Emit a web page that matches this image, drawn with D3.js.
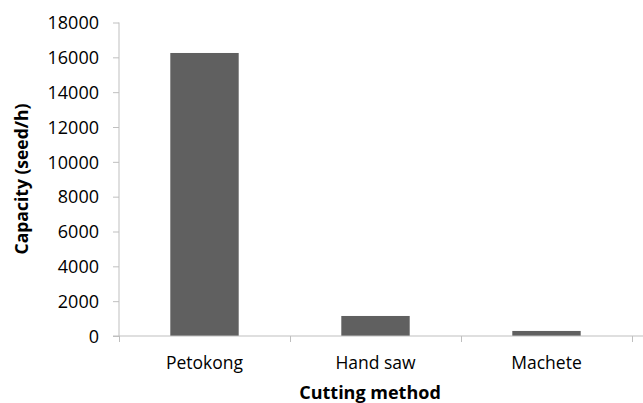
<!DOCTYPE html>
<html>
<head>
<meta charset="utf-8">
<script src="https://cdn.jsdelivr.net/npm/d3@7"></script>
<style>
  body { margin: 0; background: #fff; }
  text { font-family: "Open Sans", sans-serif; fill: #000; }
</style>
</head>
<body>
<svg id="chart" width="643" height="403"></svg>
<script>
// data
const methods = ["Petokong", "Hand saw", "Machete"];
const capacity = [16250, 1150, 290];
const yTicks = [0, 2000, 4000, 6000, 8000, 10000, 12000, 14000, 16000, 18000];

const margin = {top: 22.5, right: 0, bottom: 67, left: 119};
const width = 643 - margin.left - margin.right;
const height = 403 - margin.top - margin.bottom;

const svg = d3.select("#chart");
const chart = svg.append("g")
    .attr("transform", `translate(${margin.left},${margin.top})`);

const xScale = d3.scaleBand()
    .domain(methods)
    .range([0, 171 * 3])
    .paddingInner(0.6)
    .paddingOuter(0.3);

const yScale = d3.scaleLinear()
    .domain([0, 18000])
    .range([height, 0]);

// y axis
const yAxis = chart.append("g")
    .call(d3.axisLeft(yScale).tickValues(yTicks).tickSize(6).tickPadding(14).tickFormat(d3.format("d")));
yAxis.selectAll("line").attr("stroke", "#bfbfbf");
yAxis.select(".domain").attr("stroke", "#bfbfbf").attr("d", `M0,0V${height}`);
yAxis.selectAll("text").style("font-size", "18px").attr("dy", "0.35em");

// bars
chart.append("g")
    .selectAll("rect")
    .data(methods)
    .enter()
    .append("rect")
    .attr("x", d => xScale(d))
    .attr("width", xScale.bandwidth())
    .attr("y", (d, i) => yScale(capacity[i]))
    .attr("height", (d, i) => height - yScale(capacity[i]))
    .attr("fill", "#606060");

// x axis (line runs to the right edge)
const xAxis = chart.append("g")
    .attr("transform", `translate(0,${height})`);
xAxis.append("line")
    .attr("x1", -6).attr("x2", width)
    .attr("stroke", "#bfbfbf");
xAxis.selectAll(".tick")
    .data(d3.range(methods.length + 1))
    .enter()
    .append("line")
    .attr("x1", i => i * xScale.step() + 0.5)
    .attr("x2", i => i * xScale.step() + 0.5)
    .attr("y1", 0).attr("y2", 6)
    .attr("stroke", "#bfbfbf");
xAxis.selectAll(".lbl")
    .data(methods)
    .enter()
    .append("text")
    .attr("x", d => xScale(d) + xScale.bandwidth() / 2)
    .attr("y", 27)
    .attr("dy", "0.35em")
    .attr("text-anchor", "middle")
    .style("font-size", "17.5px")
    .text(d => d);

// axis titles
svg.append("text")
    .attr("x", 370)
    .attr("y", 393)
    .attr("dy", "0.35em")
    .attr("text-anchor", "middle")
    .style("font-size", "18px")
    .style("font-weight", "bold")
    .text("Cutting method");

svg.append("text")
    .attr("transform", "translate(22,179) rotate(-90)")
    .attr("dy", "0.35em")
    .attr("text-anchor", "middle")
    .style("font-size", "17.5px")
    .style("font-weight", "bold")
    .text("Capacity (seed/h)");
</script>
</body>
</html>
